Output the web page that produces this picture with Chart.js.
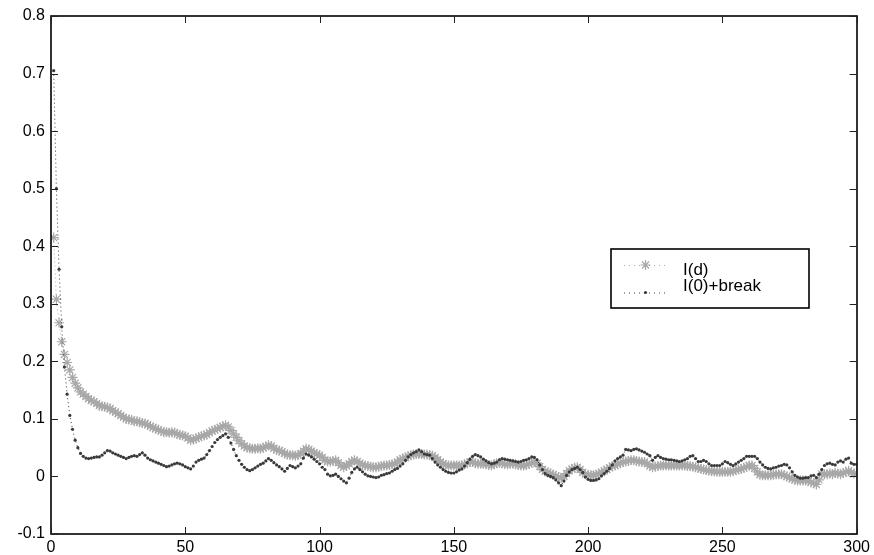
<!DOCTYPE html>
<html>
<head>
<meta charset="utf-8">
<script src="https://cdn.jsdelivr.net/npm/chart.js@4.4.1/dist/chart.umd.min.js"></script>
<style>
html,body{margin:0;padding:0;background:#fff;}
#wrap{width:874px;height:555px;position:relative;}
</style>
</head>
<body>
<div id="wrap"><canvas id="c"></canvas></div>
<script>
// ---- data ----
const seriesNames = ["I(d)", "I(0)+break"];
const xTicks = [0, 50, 100, 150, 200, 250, 300];
const yTicks = [-0.1, 0, 0.1, 0.2, 0.3, 0.4, 0.5, 0.6, 0.7, 0.8];

// I(d), x = 1..300
const seriesId = [
0.415,0.308,0.267,0.234,0.212,0.198,0.185,0.172,0.162,0.154,
0.147,0.143,0.139,0.135,0.132,0.130,0.127,0.123,0.122,0.121,
0.120,0.118,0.114,0.112,0.109,0.106,0.103,0.100,0.099,0.098,
0.096,0.096,0.094,0.093,0.092,0.090,0.087,0.085,0.083,0.081,
0.079,0.077,0.077,0.076,0.077,0.076,0.074,0.072,0.071,0.070,
0.067,0.063,0.064,0.066,0.068,0.070,0.071,0.073,0.076,0.079,
0.081,0.083,0.085,0.087,0.089,0.086,0.080,0.074,0.068,0.062,
0.057,0.053,0.050,0.049,0.048,0.048,0.049,0.048,0.050,0.052,
0.054,0.053,0.049,0.046,0.045,0.043,0.040,0.038,0.037,0.037,
0.036,0.037,0.040,0.044,0.048,0.047,0.044,0.041,0.039,0.037,
0.033,0.028,0.026,0.026,0.027,0.028,0.024,0.019,0.016,0.018,
0.022,0.026,0.028,0.026,0.023,0.020,0.019,0.018,0.017,0.016,
0.016,0.017,0.018,0.019,0.019,0.020,0.021,0.022,0.025,0.029,
0.031,0.033,0.035,0.037,0.038,0.039,0.039,0.039,0.038,0.038,
0.037,0.036,0.033,0.029,0.025,0.022,0.020,0.019,0.019,0.019,
0.019,0.019,0.019,0.021,0.023,0.025,0.025,0.023,0.022,0.022,
0.022,0.021,0.020,0.019,0.021,0.023,0.024,0.023,0.021,0.021,
0.022,0.022,0.021,0.020,0.019,0.019,0.020,0.022,0.024,0.025,
0.023,0.017,0.012,0.009,0.007,0.005,0.003,0.001,-0.001,-0.003,
0.000,0.005,0.010,0.013,0.015,0.016,0.012,0.007,0.004,0.003,
0.002,0.002,0.003,0.005,0.007,0.010,0.012,0.015,0.018,0.019,
0.021,0.023,0.025,0.026,0.027,0.028,0.028,0.027,0.026,0.025,
0.025,0.022,0.018,0.016,0.017,0.018,0.019,0.019,0.019,0.019,
0.019,0.019,0.019,0.019,0.019,0.019,0.018,0.018,0.017,0.016,
0.015,0.013,0.012,0.011,0.010,0.009,0.009,0.008,0.008,0.008,
0.008,0.008,0.008,0.009,0.011,0.012,0.013,0.015,0.017,0.019,
0.019,0.014,0.008,0.003,0.002,0.002,0.002,0.002,0.003,0.004,
0.004,0.004,0.002,0.000,-0.002,-0.004,-0.006,-0.007,-0.007,-0.007,
-0.007,-0.008,-0.010,-0.012,-0.014,-0.006,0.004,0.004,0.004,0.005,
0.004,0.006,0.005,0.004,0.006,0.008,0.010,0.007,0.005,0.005
];

// I(0)+break, x = 1..300
const seriesBreak = [
0.705,0.500,0.360,0.260,0.190,0.143,0.106,0.082,0.063,0.050,
0.040,0.035,0.032,0.031,0.032,0.033,0.034,0.034,0.037,0.041,
0.045,0.044,0.041,0.039,0.037,0.035,0.033,0.031,0.033,0.035,
0.036,0.035,0.038,0.041,0.037,0.032,0.029,0.027,0.025,0.023,
0.021,0.019,0.017,0.018,0.020,0.022,0.023,0.022,0.020,0.017,
0.015,0.013,0.018,0.025,0.028,0.030,0.032,0.038,0.045,0.052,
0.059,0.064,0.068,0.071,0.074,0.068,0.058,0.047,0.036,0.028,
0.021,0.016,0.012,0.010,0.012,0.015,0.018,0.021,0.023,0.027,
0.031,0.028,0.024,0.020,0.017,0.013,0.009,0.014,0.019,0.017,
0.015,0.018,0.022,0.032,0.039,0.037,0.034,0.030,0.026,0.022,
0.016,0.012,0.004,0.001,0.002,0.004,0.000,-0.004,-0.008,-0.011,
-0.003,0.007,0.013,0.016,0.012,0.008,0.004,0.001,0.000,-0.001,
-0.002,-0.001,0.002,0.003,0.005,0.006,0.009,0.012,0.014,0.018,
0.022,0.028,0.034,0.038,0.041,0.043,0.046,0.043,0.039,0.038,
0.037,0.031,0.025,0.020,0.016,0.012,0.009,0.007,0.006,0.006,
0.008,0.011,0.013,0.018,0.024,0.030,0.035,0.038,0.036,0.034,
0.030,0.027,0.024,0.022,0.023,0.025,0.029,0.031,0.030,0.029,
0.028,0.027,0.026,0.025,0.026,0.028,0.029,0.031,0.034,0.033,
0.029,0.020,0.012,0.005,0.002,0.000,-0.002,-0.006,-0.011,-0.016,
-0.008,0.002,0.008,0.012,0.014,0.016,0.012,0.007,-0.001,-0.005,
-0.007,-0.007,-0.006,-0.004,0.001,0.005,0.009,0.014,0.020,0.027,
0.031,0.034,0.037,0.047,0.046,0.045,0.047,0.048,0.046,0.044,
0.042,0.039,0.036,0.028,0.033,0.036,0.033,0.031,0.030,0.029,
0.029,0.028,0.027,0.026,0.027,0.029,0.031,0.035,0.036,0.031,
0.026,0.026,0.028,0.026,0.022,0.019,0.019,0.019,0.019,0.022,
0.026,0.024,0.021,0.019,0.022,0.025,0.028,0.031,0.035,0.035,
0.035,0.035,0.031,0.025,0.020,0.016,0.014,0.013,0.015,0.016,
0.018,0.019,0.021,0.020,0.015,0.008,0.002,-0.001,-0.003,-0.003,
-0.002,-0.002,0.001,0.002,-0.002,0.004,0.012,0.019,0.022,0.023,
0.021,0.020,0.025,0.027,0.025,0.030,0.032,0.023,0.021,0.021
];

// ---- chart ----
const FONT = '"Liberation Sans", Arial, Helvetica, sans-serif';
const GRAY = '#a8a8a8';
const DARK = '#3a3a3a';

function toPoints(arr){ return arr.map((v,i)=>({x:i+1, y:v})); }

const boxTicks = {
  id:'boxTicks',
  afterDraw(chart){
    const ctx = chart.ctx, a = chart.chartArea;
    const xs = chart.scales.x, ys = chart.scales.y;
    ctx.save();
    ctx.strokeStyle = '#000';
    ctx.lineWidth = 1.6;
    ctx.strokeRect(Math.round(a.left), Math.round(a.top), Math.round(a.right-a.left), Math.round(a.bottom-a.top));
    const L = 7;
    ctx.lineWidth = 1;
    ctx.strokeStyle = '#222';
    ctx.beginPath();
    xTicks.forEach(t=>{
      const px = Math.round(xs.getPixelForValue(t))+0.5;
      ctx.moveTo(px, a.bottom); ctx.lineTo(px, a.bottom-L);
      ctx.moveTo(px, a.top); ctx.lineTo(px, a.top+L);
    });
    yTicks.forEach(t=>{
      const py = Math.round(ys.getPixelForValue(t))+0.5;
      ctx.moveTo(a.left, py); ctx.lineTo(a.left+L, py);
      ctx.moveTo(a.right, py); ctx.lineTo(a.right-L, py);
    });
    ctx.stroke();

    // legend
    const bx = 611, by = 249, bw = 198, bh = 59;
    ctx.fillStyle = '#fff';
    ctx.fillRect(bx, by, bw, bh);
    ctx.strokeStyle = '#000';
    ctx.lineWidth = 1.6;
    ctx.strokeRect(bx, by, bw, bh);
    const rowsMark = [265, 292.5];
    const rowsText = [270, 286.5];
    const styles = [
      {color:GRAY, pt:'star', r:5},
      {color:DARK, pt:'circle', r:1.6}
    ];
    seriesNames.forEach((name,i)=>{
      const st = styles[i];
      ctx.save();
      ctx.strokeStyle = st.color;
      ctx.lineWidth = 1;
      ctx.setLineDash([1,4]);
      ctx.beginPath();
      ctx.moveTo(624, rowsMark[i]+0.5); ctx.lineTo(668, rowsMark[i]+0.5);
      ctx.stroke();
      ctx.setLineDash([]);
      ctx.lineWidth = 1.2;
      if (st.pt === 'circle'){
        ctx.fillStyle = st.color; ctx.beginPath(); ctx.arc(645.5, rowsMark[i], st.r, 0, Math.PI*2); ctx.fill();
      } else {
        Chart.helpers.drawPoint(ctx, {pointStyle:st.pt, radius:st.r, borderWidth:1.2, rotation:0}, 645.5, rowsMark[i]);
      }
      ctx.restore();
      ctx.fillStyle = '#000';
      ctx.font = '17px ' + FONT;
      ctx.textAlign = 'left';
      ctx.textBaseline = 'middle';
      ctx.fillText(name, 683, rowsText[i]);
    });
    ctx.restore();
  }
};

new Chart(document.getElementById('c'), {
  type:'line',
  data:{
    datasets:[
      {
        label:seriesNames[0],
        data:toPoints(seriesId),
        borderColor:GRAY,
        borderWidth:1,
        borderDash:[1,3],
        pointStyle:'star',
        pointRadius:5,
        pointBorderWidth:1.2,
        pointBorderColor:GRAY,
        pointBackgroundColor:GRAY,
        fill:false,
        tension:0,
        order:2
      },
      {
        label:seriesNames[1],
        data:toPoints(seriesBreak),
        borderColor:DARK,
        borderWidth:1,
        borderDash:[1,3],
        pointStyle:'circle',
        pointRadius:1.6,
        pointBorderWidth:0,
        pointBackgroundColor:DARK,
        fill:false,
        tension:0,
        order:1
      }
    ]
  },
  options:{
    responsive:true,
    maintainAspectRatio:false,
    animation:false,
    devicePixelRatio:1,
    layout:{padding:{top:16,right:15,left:0,bottom:0}},
    plugins:{legend:{display:false}, tooltip:{enabled:false}},
    scales:{
      x:{
        type:'linear', min:0, max:300,
        afterBuildTicks(s){ s.ticks = xTicks.map(v=>({value:v})); },
        afterFit(s){ s.height = 21; },
        grid:{display:false, drawTicks:false},
        border:{display:false},
        ticks:{color:'#000', font:{family:FONT, size:16}, padding:4, maxRotation:0,
               callback:(v)=>String(v)}
      },
      y:{
        type:'linear', min:-0.1, max:0.8,
        afterBuildTicks(s){ s.ticks = yTicks.map(v=>({value:v})); },
        afterFit(s){ s.width = 51; },
        grid:{display:false, drawTicks:false},
        border:{display:false},
        ticks:{color:'#000', font:{family:FONT, size:16}, padding:6,
               callback:(v)=>String(Math.round(v*10)/10)}
      }
    }
  },
  plugins:[boxTicks]
});
</script>
</body>
</html>
